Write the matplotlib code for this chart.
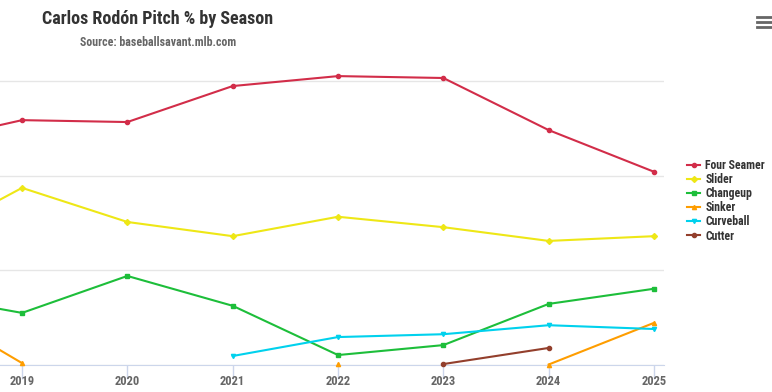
import matplotlib
matplotlib.use("Agg")
import matplotlib.pyplot as plt

seasons = [2018, 2019, 2020, 2021, 2022, 2023, 2024, 2025]
four_seamer = [46.7, 51.7, 51.3, 58.9, 61.0, 60.6, 49.6, 40.8]
slider = [25.5, 37.4, 30.2, 27.2, 31.3, 29.1, 26.2, 27.2]
changeup = [15.0, 11.0, 18.8, 12.5, 2.1, 4.2, 12.9, 16.1]
sinker = [13.5, 0.4, None, None, 0.2, None, 0.1, 8.9]
curveball = [None, None, None, 1.9, 5.9, 6.5, 8.4, 7.6]
cutter = [None, None, None, None, None, 0.2, 3.6, None]

names = ["Four Seamer", "Slider", "Changeup", "Sinker", "Curveball", "Cutter"]
series = [four_seamer, slider, changeup, sinker, curveball, cutter]
colors = ["#d22d49", "#eee716", "#1dbe3a", "#fe9d00", "#00d1ed", "#933f2c"]
markers = ["o", "D", "s", "^", "v", "o"]

plt.rcParams['font.family'] = ['Roboto Condensed', 'Fira Sans Condensed', 'DejaVu Sans']

fig = plt.figure(figsize=(7.72, 3.92), dpi=100)
# plot area is partly off the left edge, like the reference
ax = fig.add_axes([-93.3 / 772, 27 / 392, 757.3 / 772, 305 / 392])

for name, vals, c, m in zip(names, series, colors, markers):
    ys = [float('nan') if v is None else v for v in vals]
    ax.plot(seasons, ys, color=c, lw=1.5, marker=m, ms=3.0, mec=c, label=name,
            clip_on=False, zorder=3)

ax.set_xlim(2017.905, 2025.095)
ax.set_ylim(0, 64.4)
ax.set_yticks([0, 20, 40, 60])
ax.yaxis.grid(True, color="#e6e6e6", lw=1)
ax.set_axisbelow(True)
ax.tick_params(axis='y', length=0, labelleft=False)
ax.set_xticks(seasons)
ax.set_xticklabels([""] + [str(s) for s in seasons[1:]])
ax.tick_params(axis='x', length=10, width=1, color="#ccd6eb", pad=-2.5,
               labelsize=9, labelcolor="#666666")
for lbl in ax.get_xticklabels():
    lbl.set_fontweight('bold')
for s in ['top', 'right', 'left']:
    ax.spines[s].set_visible(False)
ax.spines['bottom'].set_color("#ccd6eb")

fig.text(158 / 772, 1 - 19 / 392, "Carlos Rodón Pitch % by Season", ha='center', va='center',
         fontsize=13, fontweight='bold', color="#333333")
fig.text(158 / 772, 1 - 43 / 392, "Source: baseballsavant.mlb.com", ha='center', va='center',
         fontsize=8.6, fontweight='bold', color="#666666")

leg = fig.legend(loc='upper left', bbox_to_anchor=(682 / 772, 1 - 154 / 392), frameon=False,
                 handlelength=1.15, handletextpad=0.42, labelspacing=0.1, borderaxespad=0,
                 prop={'size': 8.5, 'weight': 'bold'})
for t in leg.get_texts():
    t.set_color("#333333")

# menu icon
for yy in [17, 22, 27]:
    fig.add_artist(plt.Line2D([757 / 772, 771 / 772], [1 - yy / 392] * 2, color="#666666", lw=2))

fig.savefig("out.png", dpi=100)
